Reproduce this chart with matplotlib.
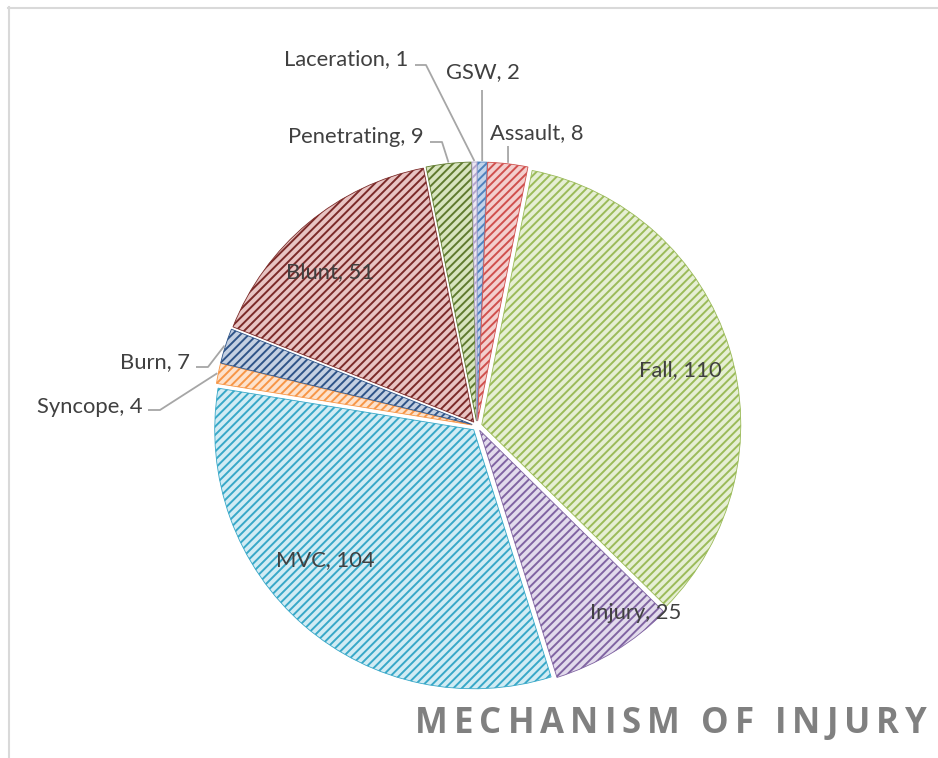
import matplotlib.pyplot as plt
from matplotlib.lines import Line2D
import numpy as np

plt.rcParams['font.family'] = ['Lato', 'DejaVu Sans']
plt.rcParams['hatch.linewidth'] = 1.4

# slices, clockwise from 12 o'clock
labels = ['GSW', 'Assault', 'Fall', 'Injury', 'MVC', 'Syncope', 'Burn', 'Blunt', 'Penetrating', 'Laceration']
counts = [2, 8, 110, 25, 104, 4, 7, 51, 9, 1]

hatch_colors = ['#4f81bd', '#d0504d', '#9bbb59', '#8064a2', '#38a8c8', '#f79646',
                '#2f5488', '#7b2a28', '#5f7a2e', '#b3a5cc']
fill_colors = ['#c3d4ea', '#f3cfce', '#e6efd4', '#e2dbec', '#d2ecf4', '#fde2cc',
               '#c4d0e2', '#e8c4c3', '#d8e4bf', '#ece8f3']

title = 'MECHANISM OF INJURY'

# figure works in pixel units (origin top-left, converted below)
W, H = 938, 758
CX, CY = 477, 426
R = 259

# label placement (px) – inside labels centred, outside ones with elbow leader
inside_pos = {'Fall': (680, 370), 'Injury': (636, 613), 'MVC': (325, 560), 'Blunt': (330, 272)}
outside_pos = {
    'GSW': ((483, 72), [(482, 90)]),
    'Assault': ((537, 133), [(508, 146)]),
    'Laceration': ((346, 59), [(415, 65), (426, 65)]),
    'Penetrating': ((356, 137), [(430, 142), (442, 142)]),
    'Burn': ((155, 362), [(196, 367), (208, 367)]),
    'Syncope': ((90, 407), [(148, 410), (160, 410)]),
}


def fy(y):
    return H - y


fig = plt.figure(figsize=(W / 100, H / 100), dpi=100)
ax = fig.add_axes([0, 0, 1, 1])

wedges, _ = ax.pie(counts, startangle=90, counterclock=False, radius=R,
                   center=(CX, fy(CY)), explode=[5] * len(counts),
                   colors=fill_colors, wedgeprops=dict(linewidth=0.6))
for w, hc in zip(wedges, hatch_colors):
    w.set_hatch('////')
    w.set_edgecolor(hc)

ax.set_xlim(0, W)
ax.set_ylim(0, H)
ax.set_aspect('equal')
ax.axis('off')

txt_kw = dict(fontsize=15.8, color='#404040', ha='center', va='center')
for name, n, w in zip(labels, counts, wedges):
    s = f'{name}, {n}'
    if name in inside_pos:
        x, y = inside_pos[name]
        ax.text(x, fy(y), s, **txt_kw)
    else:
        (x, y), elbow = outside_pos[name]
        ax.text(x, fy(y), s, **txt_kw)
        mid = np.deg2rad((w.theta1 + w.theta2) / 2)
        wx, wy = w.center
        ex = wx + (w.r + 1) * np.cos(mid)
        ey = wy + (w.r + 1) * np.sin(mid)
        xs = [p[0] for p in elbow] + [ex]
        ys = [fy(p[1]) for p in elbow] + [ey]
        ax.plot(xs, ys, color='#a6a6a6', lw=1.3, solid_capstyle='butt')

# chart frame (only top/left visible in crop)
ax.add_line(Line2D([8.5, 8.5], [0, fy(7)], color='#d9d9d9', lw=1.5))
ax.add_line(Line2D([8, W], [fy(7.5), fy(7.5)], color='#d9d9d9', lw=1.5))

# title with wide letter spacing, spread over x = 415..927 px
title_kw = dict(fontsize=25, fontweight='bold', color='#808080',
                family=['Open Sans', 'DejaVu Sans'], va='baseline', ha='left')
renderer = fig.canvas.get_renderer()


def text_w(s):
    if not s:
        return 0.0
    t = ax.text(0, 0, s + '|', **title_kw)
    bar = ax.text(0, 0, '|', **title_kw)
    w_ = t.get_window_extent(renderer).width - bar.get_window_extent(renderer).width
    t.remove()
    bar.remove()
    return w_


prefix = [text_w(title[:i]) for i in range(len(title) + 1)]
x_left, x_right = 415, 927
gap = (x_right - x_left - prefix[-1]) / (len(title) - 1)
for i, ch in enumerate(title):
    if ch == ' ':
        continue
    ax.text(x_left + prefix[i] + i * gap, fy(733), ch, **title_kw)

fig.savefig('out.png', dpi=100)
